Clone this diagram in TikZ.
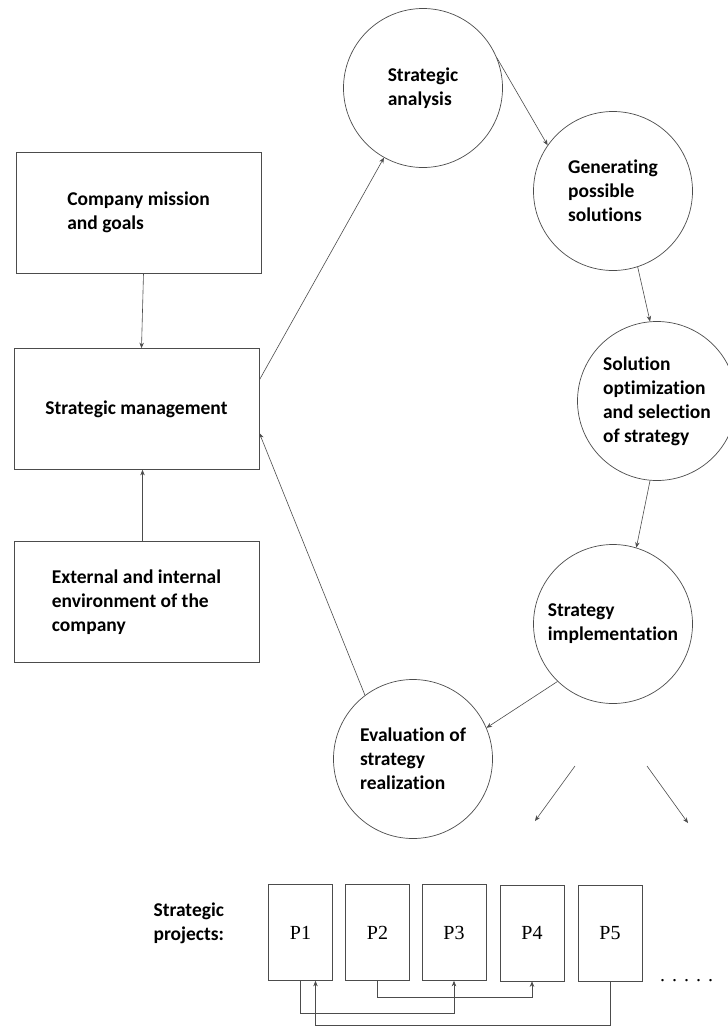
\documentclass[tikz,border=0pt]{standalone}
\usepackage{fontspec}
\setmainfont{Carlito}[Ligatures=NoCommon]
\newfontfamily\serifP{Liberation Serif}
\usetikzlibrary{arrows.meta}

\tikzset{
  lbl/.style={font=\fontsize{19.5}{24}\selectfont\bfseries, align=left, text=black},
  box/.style={draw=black!70, line width=0.7pt, minimum width=245pt, minimum height=121pt, inner sep=0pt},
  stage/.style={draw=black!70, line width=0.7pt, circle, minimum size=159pt, inner sep=0pt},
  proj/.style={draw=black!70, line width=0.7pt, minimum width=64pt, minimum height=96pt, inner sep=0pt,
               font=\serifP\fontsize{20}{24}\selectfont},
  arr/.style={draw=black!70, line width=0.6pt, -{Stealth[length=5.5pt,width=4.5pt]}},
}

\begin{document}
\begin{tikzpicture}[x=1pt,y=-1pt]
\useasboundingbox[fill=white] (0,0) rectangle (728,1028);

% left column of boxes
\node[box, lbl] (cm)  at (138.5,212.5) {Company mission\\and goals};
\node[box, lbl] (sm)  at (136.5,409)   {Strategic management};
\node[box, lbl] (ext) at (136.5,602)   {External and internal\\environment of the\\company};

% stages of the strategic process
\node[stage, lbl] (sa)   at (423,88)  {Strategic\\analysis};
\node[stage, lbl] (gen)  at (613,191) {Generating\\possible\\solutions};
\node[stage, lbl] (opt)  at (657,401) {Solution\\optimization\\and selection\\of strategy};
\node[stage, lbl] (impl) at (613,624) {Strategy\\implementation};
\node[stage, lbl] (eval) at (413,759) {Evaluation of\\strategy\\realization};

% box connectors
\draw[arr] ([xshift=5pt]cm.south) -- ([xshift=5pt]sm.north);
\draw[arr] ([xshift=6pt]ext.north) -- ([xshift=6pt]sm.south);
\draw[arr] ([yshift=29pt]sm.east) -- (sa);
\draw[arr] (eval.127) -- ([yshift=-24pt]sm.east);

% cycle connectors
\draw[arr] (sa.22)    -- (gen.145);
\draw[arr] (gen.288)  -- (opt.95);
\draw[arr] (opt.265)  -- (impl.73);
\draw[arr] (impl.226) -- (eval.23);

% arrows towards the projects
\coordinate (f1s) at (575,766);
\coordinate (f1e) at (535,821);
\coordinate (f2s) at (647,766);
\coordinate (f2e) at (688,823);
\draw[arr] (f1s) -- (f1e);
\draw[arr] (f2s) -- (f2e);

% strategic projects
\node[lbl, anchor=west] (sp) at (150,923) {Strategic\\projects:};
\node[proj] (p1) at (300.5,932.5) {P1};
\node[proj] (p2) at (377.5,932.5) {P2};
\node[proj] (p3) at (454,932.5)   {P3};
\node[proj] (p4) at (532,933)     {P4};
\node[proj] (p5) at (610,933.5)   {P5};
\node[font=\serifP\fontsize{20}{24}\selectfont, anchor=base] (dots) at (686.5,981)
  {.\hspace{7pt}.\hspace{7pt}.\hspace{7pt}.\hspace{7pt}.};

% links between projects
\draw[arr] (p1.south) -- ++(0,32) -| (p3.south);
\draw[arr] (p2.south) -- ++(0,16) -| (p4.south);
\draw[arr] (p5.south) -- ++(0,43) -| ([xshift=15pt]p1.south);
\end{tikzpicture}
\end{document}
